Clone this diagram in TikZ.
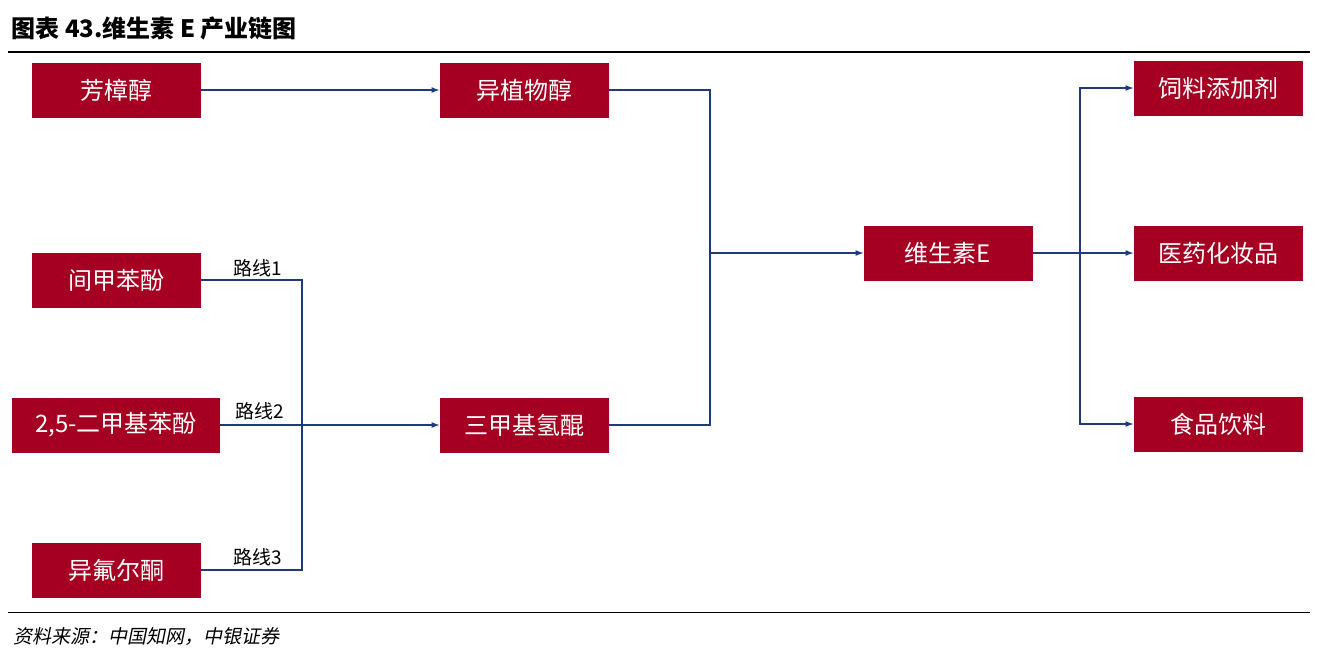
\documentclass[tikz,border=0pt]{standalone}
\usepackage{fontspec}
\setmainfont{Noto Sans CJK SC}
\newfontfamily\srcfont[FakeSlant=0.2]{Noto Sans CJK SC}
\usetikzlibrary{positioning}
\definecolor{boxred}{HTML}{A50021}
\definecolor{lineblue}{HTML}{1F3A7A}
\tikzset{
  item/.style={fill=boxred, text=white, minimum width=169pt, minimum height=55pt, inner sep=0pt, font=\fontsize{24}{28}\selectfont},
  link/.style={draw=lineblue, line width=1.6pt},
  tag/.style={font=\fontsize{19}{22}\selectfont, anchor=south}
}
\begin{document}
\begin{tikzpicture}[x=1pt, y=-1pt]
  \useasboundingbox (0,0) rectangle (1318,659);

  % 标题与分隔线
  \node[anchor=west, font=\fontsize{24}{28}\selectfont\bfseries] (title) at (8,28) {图表 43.维生素 E 产业链图};
  \draw[line width=1.2pt] (8,52) -- (1310,52);
  \draw[line width=1pt] (8,612) -- (1310,612);
  \node[anchor=west, font=\fontsize{19}{22}\srcfont] (src) at (10,636) {资料来源：中国知网，中银证券};

  % 原料
  \node[item] (linalool) at (116,90) {芳樟醇};
  \node[item] (isophytol) at (524,90) {异植物醇};
  \node[item] (cresol) at (116,280) {间甲苯酚};
  \node[item, minimum width=208pt] (xylenol) at (116,425) {2,5-二甲基苯酚};
  \node[item] (tmhq) at (524,425) {三甲基氢醌};
  \node[item] (isophorone) at (116,570) {异氟尔酮};

  % 维生素E与下游
  \node[item] (ve) at (948,253) {维生素E};
  \node[item] (feed) at (1218,88) {饲料添加剂};
  \node[item] (pharma) at (1218,253) {医药化妆品};
  \node[item] (food) at (1218,424) {食品饮料};

  \coordinate (jl) at (302,425);
  \coordinate (jm) at (710,253);
  \coordinate (jr) at (1080,253);

  % 连接线
  \draw[link, -latex] (linalool) -- (isophytol);
  \draw[link] (isophytol.east) -| (jm);
  \draw[link] (tmhq.east) -| (jm);
  \draw[link, -latex] (jm) -- (ve);
  \draw[link] (ve) -- (jr);
  \draw[link, -latex] (jr) |- (feed.west);
  \draw[link, -latex] (jr) -- (pharma);
  \draw[link, -latex] (jr) |- (food.west);
  \draw[link] (cresol.east) -| (jl);
  \draw[link] (isophorone.east) -| (jl);
  \draw[link, -latex] (xylenol) -- (tmhq);

  \node[tag] (r1) at (258,281) {路线1};
  \node[tag] (r2) at (260,424) {路线2};
  \node[tag] (r3) at (258,570) {路线3};
\end{tikzpicture}
\end{document}
